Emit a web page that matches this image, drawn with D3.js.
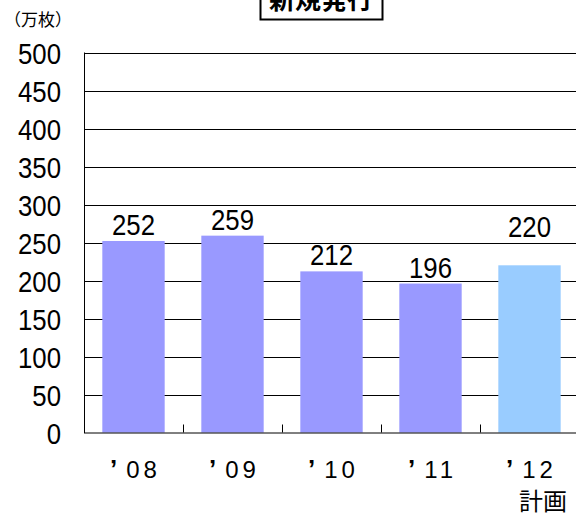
<!DOCTYPE html>
<html>
<head>
<meta charset="utf-8">
<script src="https://cdn.jsdelivr.net/npm/d3@7"></script>
<style>
  body { margin: 0; background: #fff; }
  text { font-family: "Liberation Sans", sans-serif; fill: #000; }
</style>
</head>
<body>
<svg></svg>
<script>
// years on x, issued cards (10k) on y
var years = ['’08', '’09', '’10', '’11', '’12']
var values = [252, 259, 212, 196, 220]
var colors = ['#9999ff', '#9999ff', '#9999ff', '#9999ff', '#99ccff']
var yTicks = [0, 50, 100, 150, 200, 250, 300, 350, 400, 450, 500]

var width = 576
var height = 516
var plotLeft = 84
var plotRight = 579
var plotTop = 52.5
var plotBottom = 432.5
var narrow = 0.86 // squeeze digits like the original gothic font

var svg = d3.select('svg')
  .attr('width', width)
  .attr('height', height)

var xScale = d3.scaleBand()
  .domain(years)
  .range([plotLeft, plotRight])
  .paddingInner(0.37)
  .paddingOuter(0.185)

var yScale = d3.scaleLinear()
  .domain([0, 500])
  .range([plotBottom, plotTop])

// gridlines
svg.selectAll('.grid')
  .data(yTicks.slice(1))
  .enter()
  .append('line')
    .attr('x1', plotLeft)
    .attr('x2', width)
    .attr('y1', d => Math.round(yScale(d)) + 0.5)
    .attr('y2', d => Math.round(yScale(d)) + 0.5)
    .attr('stroke', '#000')

svg.selectAll('rect')
  .data(values)
  .enter()
  .append('rect')
    .attr('x', (d, i) => xScale(years[i]))
    .attr('y', d => yScale(d))
    .attr('width', xScale.bandwidth())
    .attr('height', d => plotBottom - yScale(d))
    .attr('fill', (d, i) => colors[i])

// value labels (the plan year label sits higher in the original)
svg.selectAll('.val')
  .data(values)
  .enter()
  .append('text')
    .attr('transform', (d, i) => 'translate(' + (xScale(years[i]) + xScale.bandwidth() / 2) + ',' +
      (yScale(d) - (i === 4 ? 28 : 6)) + ') scale(' + narrow + ',1)')
    .attr('text-anchor', 'middle')
    .style('font-size', '30px')
    .text(d => d)

// y axis
svg.append('line')
  .attr('x1', plotLeft + 0.5).attr('x2', plotLeft + 0.5)
  .attr('y1', plotTop).attr('y2', plotBottom + 0.5)
  .attr('stroke', '#000')

svg.selectAll('.ylab')
  .data(yTicks)
  .enter()
  .append('text')
    .attr('transform', d => 'translate(61,' + (yScale(d) + 11) + ') scale(' + narrow + ',1)')
    .attr('text-anchor', 'end')
    .style('font-size', '30px')
    .text(d => d)

// x axis
svg.append('line')
  .attr('x1', plotLeft).attr('x2', width)
  .attr('y1', plotBottom + 0.5).attr('y2', plotBottom + 0.5)
  .attr('stroke', '#000')

var step = xScale.step()
svg.selectAll('.xtick')
  .data(years.slice(1))
  .enter()
  .append('line')
    .attr('x1', d => Math.round(xScale(d) - xScale.paddingInner() * step / 2) + 0.5)
    .attr('x2', d => Math.round(xScale(d) - xScale.paddingInner() * step / 2) + 0.5)
    .attr('y1', plotBottom)
    .attr('y2', plotBottom - 8)
    .attr('stroke', '#000')

// x labels: apostrophe, gap, then the digits
var xl = svg.selectAll('.xlab')
  .data(years)
  .enter()
  .append('text')
    .attr('x', d => xScale(d) + xScale.bandwidth() / 2 + 2)
    .attr('y', 478)
    .attr('text-anchor', 'middle')
    .style('font-size', '24px')
xl.append('tspan')
  .style('font-weight', 'bold')
  .style('font-size', '26px')
  .text(d => d.charAt(0))
xl.append('tspan')
  .attr('dx', 9)
  .style('letter-spacing', '4px')
  .text(d => d.slice(1))

svg.append('text')
  .attr('x', 543)
  .attr('y', 510)
  .attr('text-anchor', 'middle')
  .style('font-family', '"Noto Sans CJK JP"')
  .style('font-size', '24px')
  .text('計画')

svg.append('text')
  .attr('x', 4)
  .attr('y', 26)
  .style('font-family', '"Noto Sans CJK JP"')
  .style('font-size', '17px')
  .text('（万枚）')

// title box, clipped at top
svg.append('rect')
  .attr('x', 260.5)
  .attr('y', -20)
  .attr('width', 122)
  .attr('height', 39.5)
  .attr('fill', '#fff')
  .attr('stroke', '#000')
  .attr('stroke-width', 2)

svg.append('text')
  .attr('x', 321)
  .attr('y', 9)
  .attr('text-anchor', 'middle')
  .style('font-family', '"Noto Sans CJK JP"')
  .style('font-weight', 'bold')
  .style('font-size', '26px')
  .text('新規発行')
</script>
</body>
</html>
